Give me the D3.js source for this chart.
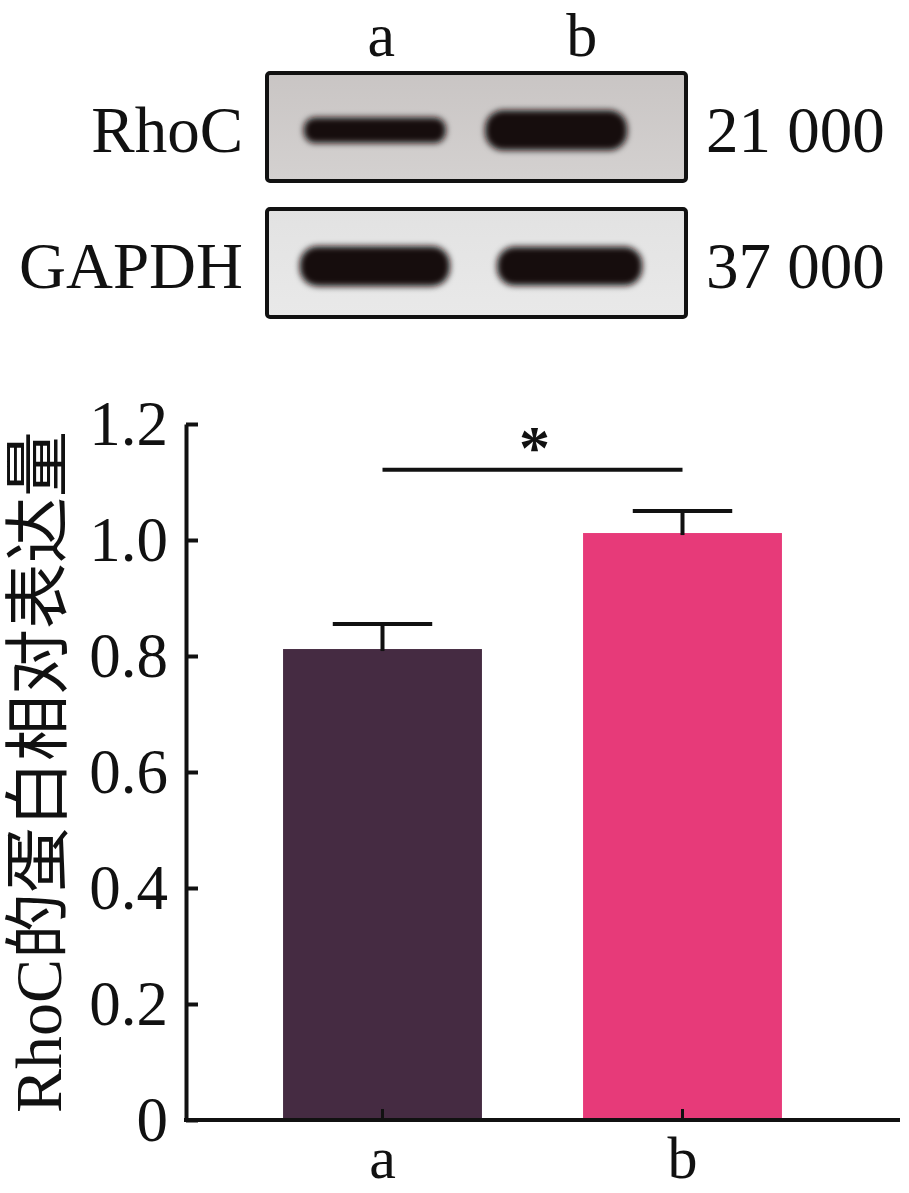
<!DOCTYPE html>
<html>
<head>
<meta charset="utf-8">
<script src="https://cdn.jsdelivr.net/npm/d3@7/dist/d3.min.js"></script>
<style>
  html, body { margin: 0; padding: 0; background: #fff; }
  svg { display: block; }
  text { font-family: "Liberation Serif", "Times New Roman", "Noto Sans CJK SC", serif; fill: #111; }
</style>
</head>
<body>
<svg id="chart" width="909" height="1193"></svg>
<script>
// ---------- data ----------
const blotLanes = ["a", "b"];
const blotProteins = ["RhoC", "GAPDH"];
const blotWeights = ["21 000", "37 000"];
const rhocBandIntensity = [0.64, 1.0];
const gapdhBandIntensity = [1.0, 0.97];

const categories = ["a", "b"];
const meanValues = [0.812, 1.012];
const errorValues = [0.043, 0.038];
const yTickValues = [0, 0.2, 0.4, 0.6, 0.8, 1.0, 1.2];
const yTitle = "RhoC的蛋白相对表达量";
const sigPair = ["a", "b"];
const sigLevel = 1.121;
const sigLabel = "*";
const barColors = ["#452b42", "#e73a79"];

// ---------- setup ----------
const svg = d3.select("#chart");
svg.append("rect").attr("width", 909).attr("height", 1193).attr("fill", "#fff");

const defs = svg.append("defs");
defs.append("filter").attr("id", "blur").attr("x", "-20%").attr("y", "-50%")
  .attr("width", "140%").attr("height", "200%")
  .append("feGaussianBlur").attr("stdDeviation", 3);
const g1 = defs.append("linearGradient").attr("id", "bg1").attr("x1", 0).attr("y1", 0).attr("x2", 0).attr("y2", 1);
g1.append("stop").attr("offset", "0%").attr("stop-color", "#c9c5c4");
g1.append("stop").attr("offset", "100%").attr("stop-color", "#d4d1d0");
const g2 = defs.append("linearGradient").attr("id", "bg2").attr("x1", 0).attr("y1", 0).attr("x2", 0).attr("y2", 1);
g2.append("stop").attr("offset", "0%").attr("stop-color", "#e2e2e2");
g2.append("stop").attr("offset", "100%").attr("stop-color", "#e9e9e9");

// ---------- western blot panel ----------
const blotX0 = 267, blotX1 = 686;
const blotRow = d3.scaleBand().domain(blotProteins).range([73, 317]).paddingInner(0.205);
const laneX = d3.scalePoint().domain(blotLanes).range([blotX0, blotX1 - 20]).padding(0.6);
const laneLabelX = d3.scalePoint().domain(blotLanes).range([blotX0, blotX1]).padding(0.6);
const bandData = [rhocBandIntensity, gapdhBandIntensity];
const bgIds = ["url(#bg1)", "url(#bg2)"];
// per-row lane shift / band width (visual fine-tuning of the photographed blot)
const bandShift = [[0, 0], [-4, 12]];
const bandWidth = [[142, 142], [150, 145]];

// lane labels
svg.selectAll("text.lane").data(blotLanes).join("text")
  .attr("class", "lane")
  .attr("x", d => laneLabelX(d) + (d === "b" ? 10 : 0))
  .attr("y", 56)
  .attr("text-anchor", "middle")
  .attr("font-size", 62)
  .text(d => d);

blotProteins.forEach((p, i) => {
  const y0 = blotRow(p), h = blotRow.bandwidth();
  const grp = svg.append("g");
  grp.append("rect")
    .attr("x", blotX0).attr("y", y0)
    .attr("width", blotX1 - blotX0).attr("height", h)
    .attr("fill", bgIds[i]);
  const cy = y0 + h * 0.53;
  grp.append("g").attr("filter", "url(#blur)")
    .selectAll("rect").data(blotLanes).join("rect")
    .attr("x", (d, j) => laneX(d) - 72 + bandShift[i][j])
    .attr("width", (d, j) => bandWidth[i][j])
    .attr("y", (d, j) => cy - 20 * bandData[i][j])
    .attr("height", (d, j) => 40 * bandData[i][j])
    .attr("rx", (d, j) => 18 * bandData[i][j])
    .attr("fill", "#141110");
  grp.append("rect")
    .attr("x", blotX0).attr("y", y0)
    .attr("width", blotX1 - blotX0).attr("height", h)
    .attr("rx", 3)
    .attr("fill", "none").attr("stroke", "#111").attr("stroke-width", 4);
  grp.append("text")
    .attr("x", 243).attr("y", cy + 22)
    .attr("text-anchor", "end").attr("font-size", 65)
    .text(p);
  grp.append("text")
    .attr("x", 706).attr("y", cy + 22)
    .attr("text-anchor", "start").attr("font-size", 65)
    .text(blotWeights[i]);
});

// ---------- bar chart ----------
const y = d3.scaleLinear().domain([0, 1.2]).range([1120, 424]);
const x = d3.scaleBand().domain(categories).range([232.5, 832.5])
  .paddingInner(0.337).paddingOuter(0.1685);
const axisX0 = 186, axisX1 = 900;

// bars
svg.append("g").selectAll("rect").data(categories).join("rect")
  .attr("x", d => x(d))
  .attr("width", x.bandwidth())
  .attr("y", (d, i) => y(meanValues[i]))
  .attr("height", (d, i) => y(0) - y(meanValues[i]))
  .attr("fill", (d, i) => barColors[i]);

// error bars
const eb = svg.append("g").attr("stroke", "#111").attr("stroke-width", 4);
categories.forEach((c, i) => {
  const cx = x(c) + x.bandwidth() / 2;
  eb.append("line").attr("x1", cx).attr("x2", cx)
    .attr("y1", y(meanValues[i]) + 2).attr("y2", y(meanValues[i] + errorValues[i]));
  eb.append("line").attr("x1", cx - x.bandwidth() / 4).attr("x2", cx + x.bandwidth() / 4)
    .attr("y1", y(meanValues[i] + errorValues[i])).attr("y2", y(meanValues[i] + errorValues[i]));
});

// y axis
const yAxis = svg.append("g").attr("transform", `translate(${axisX0},0)`)
  .call(d3.axisLeft(y).tickValues(yTickValues)
    .tickFormat(d => d === 0 ? "0" : d3.format(".1f")(d))
    .tickSizeInner(-12).tickSizeOuter(0).tickPadding(18));
yAxis.select(".domain").attr("stroke", "#111").attr("stroke-width", 4);
yAxis.selectAll(".tick line").attr("stroke", "#111").attr("stroke-width", 4);
yAxis.selectAll(".tick text").attr("font-size", 63).attr("font-family", "Liberation Serif").attr("fill", "#111");

// x axis
const xAxis = svg.append("g").attr("transform", `translate(0,${y(0)})`)
  .call(d3.axisBottom(x).tickSizeInner(-11).tickSizeOuter(0).tickPadding(15));
xAxis.select(".domain").remove();
xAxis.selectAll(".tick line").attr("stroke", "#111").attr("stroke-width", 3);
xAxis.selectAll(".tick text").attr("font-size", 60).attr("font-family", "Liberation Serif").attr("fill", "#111");
svg.append("line").attr("x1", axisX0 - 2).attr("x2", axisX1)
  .attr("y1", y(0)).attr("y2", y(0)).attr("stroke", "#111").attr("stroke-width", 4);

// significance
const sx0 = x(sigPair[0]) + x.bandwidth() / 2, sx1 = x(sigPair[1]) + x.bandwidth() / 2;
svg.append("line").attr("x1", sx0).attr("x2", sx1)
  .attr("y1", y(sigLevel)).attr("y2", y(sigLevel))
  .attr("stroke", "#111").attr("stroke-width", 4);
svg.append("text").attr("x", (sx0 + sx1) / 2 + 2).attr("y", y(sigLevel) - 2)
  .attr("text-anchor", "middle").attr("font-size", 62).attr("font-weight", "bold")
  .text(sigLabel);

// y title
svg.append("text")
  .attr("transform", `translate(61,772) rotate(-90)`)
  .attr("text-anchor", "middle")
  .attr("font-size", 66)
  .attr("font-family", "Liberation Serif, Noto Sans CJK SC")
  .text(yTitle);
</script>
</body>
</html>
